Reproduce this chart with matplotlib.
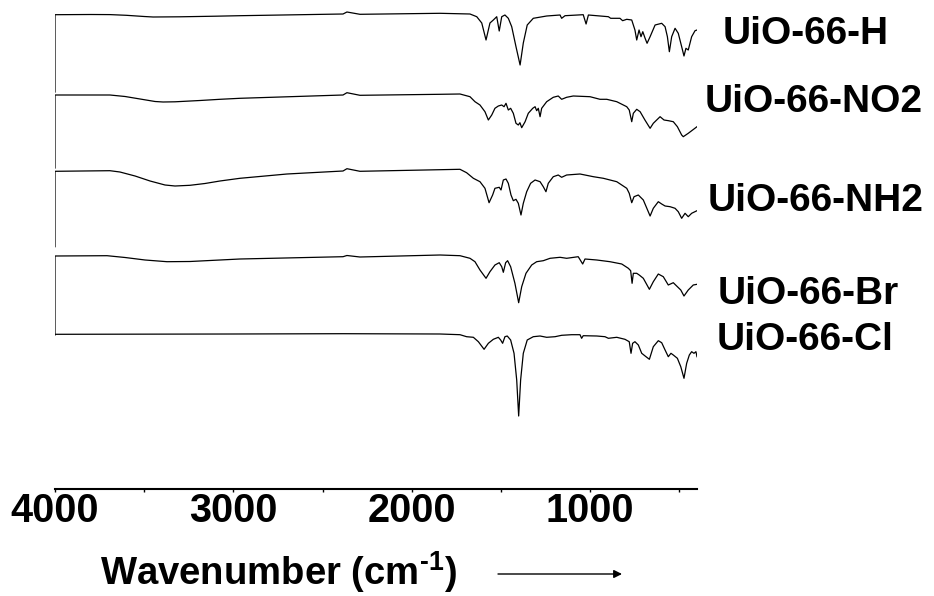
import matplotlib
matplotlib.use("Agg")
import matplotlib.pyplot as plt
import numpy as np

plt.rcParams['font.family'] = ['Liberation Sans', 'DejaVu Sans']
plt.rcParams['mathtext.fontset'] = 'custom'
plt.rcParams['mathtext.rm'] = 'Liberation Sans:bold'
plt.rcParams['mathtext.bf'] = 'Liberation Sans:bold'

# FTIR spectra, stacked. y values are the vertical position in the stack
# (arbitrary units, larger = lower on the plot).
names = ['UiO-66-H', 'UiO-66-NO2', 'UiO-66-NH2', 'UiO-66-Br', 'UiO-66-Cl']

h_wn = [4000, 4000, 3800, 3692, 3600, 3500, 3450, 3300, 3100, 2963, 2385, 2363, 2290,
        1841, 1673, 1635, 1607, 1583,
        1561, 1542, 1523, 1509, 1495, 1477, 1458, 1439, 1415, 1392, 1374, 1352, 1318,
        1243, 1168, 1159, 1140, 1038, 1022, 1009, 897, 884, 832, 817, 794, 766, 748,
        738, 725, 714, 704, 691, 680, 663, 635, 598, 579, 566, 555, 542, 523, 505,
        486, 473, 462, 449, 430, 411, 400]
h_y = [92, 14.7, 14.5, 14.6, 15.3, 16.5, 17, 16.8, 16.2, 15.7, 14, 12, 14.3,
       13.3, 14, 16.7, 23, 40,
       23, 20, 16.7, 31, 16.7, 15, 18.3, 26.7, 46.7, 65, 43, 25, 18.3,
       16, 15, 18.3, 15.7, 14.7, 24, 15, 16.7, 18.3, 18.3, 20.7, 19.3, 20, 30,
       40, 30, 36.7, 31.7, 38.3, 43.3, 36.7, 25, 23.3, 26.7, 36.7, 51.7, 36.7, 28.3, 33.3,
       46.7, 56, 48.3, 50, 36.7, 30.7, 30]

no2_wn = [4000, 4000, 3692, 3607, 3523, 3439, 3394, 3327, 3187, 3075, 2963, 2385, 2363,
          2290, 1841, 1729, 1673, 1645,
          1617, 1589, 1570, 1551, 1533, 1514, 1495, 1482, 1471, 1458, 1445, 1430, 1415,
          1402, 1393, 1383, 1364, 1346, 1321, 1308, 1299, 1290, 1280, 1271, 1243, 1206,
          1178, 1159, 1131, 1094, 1000, 944, 906, 850, 794, 780, 766, 757, 738, 719,
          692, 663, 645, 607, 585, 560, 533, 510, 486, 477, 449, 400]
no2_y = [168, 95, 95, 96.5, 99, 101.5, 102, 101.8, 100.5, 99.3, 98.3, 95, 92.7,
         95.3, 94.3, 94, 96.7, 101.7,
         105, 111.7, 120, 115, 108.3, 106, 105, 106.7, 103.3, 110, 108.3, 113.3, 123.3,
         125, 122.7, 127.7, 121.7, 113.3, 108.3, 106.7, 110.7, 108.3, 116.7, 108.3, 101.7, 97.3,
         96, 99.3, 97.3, 96, 96.7, 99.3, 99.3, 101.7, 106.7, 110, 121.7, 113.3, 109.3, 111.7,
         120, 128.3, 123.3, 116.7, 120, 120.7, 121.7, 126.7, 135, 136.7, 133.3, 126.7]

nh2_wn = [4000, 4000, 3692, 3636, 3551, 3467, 3383, 3327, 3243, 3159, 3075, 2963, 2699,
          2385, 2363, 2290, 1729, 1692,
          1654, 1617, 1589, 1566, 1546, 1533, 1509, 1499, 1486, 1471, 1458, 1443, 1430,
          1415, 1402, 1387, 1374, 1355, 1333, 1308, 1280, 1262, 1247, 1234, 1206, 1178,
          1159, 1131, 1056, 981, 925, 850, 794, 780, 766, 753, 729, 701, 663, 645, 617,
          598, 579, 551, 523, 505, 486, 467, 449, 430, 400]
nh2_y = [246.7, 171.3, 170.7, 172, 176, 181, 185, 186, 185.3, 183.5, 181, 178.3, 174,
         171, 168.7, 171.3, 169.3, 172.7,
         178.3, 181.7, 188.3, 202.7, 195, 188.3, 187.3, 190, 180, 179, 183.3, 195, 200.7,
         199.3, 203.3, 215, 203.3, 191.7, 183.3, 180, 181.7, 186.7, 191.7, 183.3, 176.7, 175,
         177.3, 175, 174, 176.7, 178.3, 181.7, 188.3, 193.3, 202.7, 196.7, 195, 200, 216, 208.3, 201.7,
         204, 206, 206.7, 208.3, 211.7, 218.3, 213.3, 216.7, 213.3, 210.7]

br_wn = [4000, 4000, 3708, 3607, 3495, 3372, 3243, 3075, 2963, 2385, 2363, 2290, 1841,
         1729, 1673, 1645,
         1617, 1583, 1561, 1533, 1509, 1495, 1486, 1473, 1462, 1445, 1421, 1400, 1383,
         1359, 1327, 1299, 1262, 1224, 1168, 1131, 1066, 1041, 1028, 962, 888, 822, 785,
         772, 764, 757, 738, 724, 701, 667, 645, 617, 589, 561, 533, 510, 491, 473, 449,
         421, 400]
br_y = [335, 256, 255.7, 257.5, 260, 261.7, 261.5, 260, 259, 256.7, 255.5, 257, 255,
        255.7, 258.3, 261.7,
        270, 278.3, 271.7, 265, 262.7, 266.7, 272.3, 262.7, 260.7, 266.7, 283.3, 302.7, 286.7,
        273.3, 265, 261.7, 260.7, 258.3, 257.3, 258.3, 256.7, 264, 259, 260, 261.7, 264, 268.3,
        270.7, 283.3, 273.3, 273.3, 275, 278.3, 289.3, 281.7, 274, 276.7, 285, 282.7, 286.7, 290, 296, 290,
        285, 284.3]

cl_wn = [4000, 3000, 2385, 1841, 1729, 1692, 1654, 1626, 1594, 1570, 1542, 1514, 1501,
         1490, 1477, 1464, 1445, 1426, 1411, 1400, 1389, 1374, 1352, 1318, 1280, 1243,
         1196, 1159, 1103, 1056, 1047, 1038, 962, 916, 897, 850, 804, 780, 770, 761, 748,
         729, 710, 686, 667, 645, 617, 598, 579, 561, 546, 533, 510, 491, 473, 458, 443,
         430, 417, 406, 400]
cl_y = [334.3, 334, 333.7, 334, 334.7, 336.7, 337.3, 341.7, 349.3, 343.3, 339.3, 337.3, 340,
        343.3, 336.7, 336, 340, 353.3, 380, 416, 380, 353.3, 340, 336.7, 336, 337.3,
        336.7, 335.3, 334.7, 334.7, 338.3, 335.7, 336, 336.7, 338.3, 337.3, 339.3, 341.7, 353.3, 343.3, 341.7,
        345, 353.3, 356.7, 359.3, 346.7, 340.7, 342.7, 350, 356.7, 353.3, 355, 358.3, 366.7, 378.3, 363.3, 355,
        351.7, 353.3, 351.7, 356.7]

series = [(h_wn, h_y), (no2_wn, no2_y), (nh2_wn, nh2_y), (br_wn, br_y), (cl_wn, cl_y)]

major_ticks = [4000, 3000, 2000, 1000]
minor_ticks = [3500, 2500, 1500, 500]

W, H = 934, 596
fig = plt.figure(figsize=(W / 100, H / 100), dpi=100)
ax = fig.add_axes([55 / W, (H - 489) / H, (697 - 55) / W, 489 / H])

for wn, y in series:
    ax.plot(wn, y, color='black', lw=0.9)

ax.set_xlim(4000, 400)
ax.set_ylim(489, 0)

for s in ['left', 'right', 'top']:
    ax.spines[s].set_visible(False)
ax.spines['bottom'].set_linewidth(1.5)
ax.set_yticks([])
ax.set_xticks(major_ticks)
ax.set_xticklabels([str(t) for t in major_ticks], fontsize=28.5, fontweight='bold')
ax.set_xticks(minor_ticks, minor=True)
ax.tick_params(axis='x', which='both', direction='out', length=2, width=1, pad=0)

# sample names on the right
label_pos = [(723, 33.5), (705, 101.5), (708, 201), (718, 293.5), (717, 340)]
for name, (px, py) in zip(names, label_pos):
    fig.text(px / W, 1 - py / H, name, fontsize=28, fontweight='bold',
             ha='left', va='center')

fig.text(100 / W, 1 - 585 / H, 'Wavenumber (cm$^{\\text{-1}}$)', fontsize=27.5,
         fontweight='bold', ha='left', va='baseline')
ax.annotate('', xy=(622 / W, 1 - 574 / H), xytext=(498 / W, 1 - 574 / H),
            xycoords='figure fraction', textcoords='figure fraction',
            arrowprops=dict(arrowstyle='-|>', color='black', lw=1,
                            shrinkA=0, shrinkB=0, mutation_scale=12))

fig.savefig('out.png', dpi=100)
